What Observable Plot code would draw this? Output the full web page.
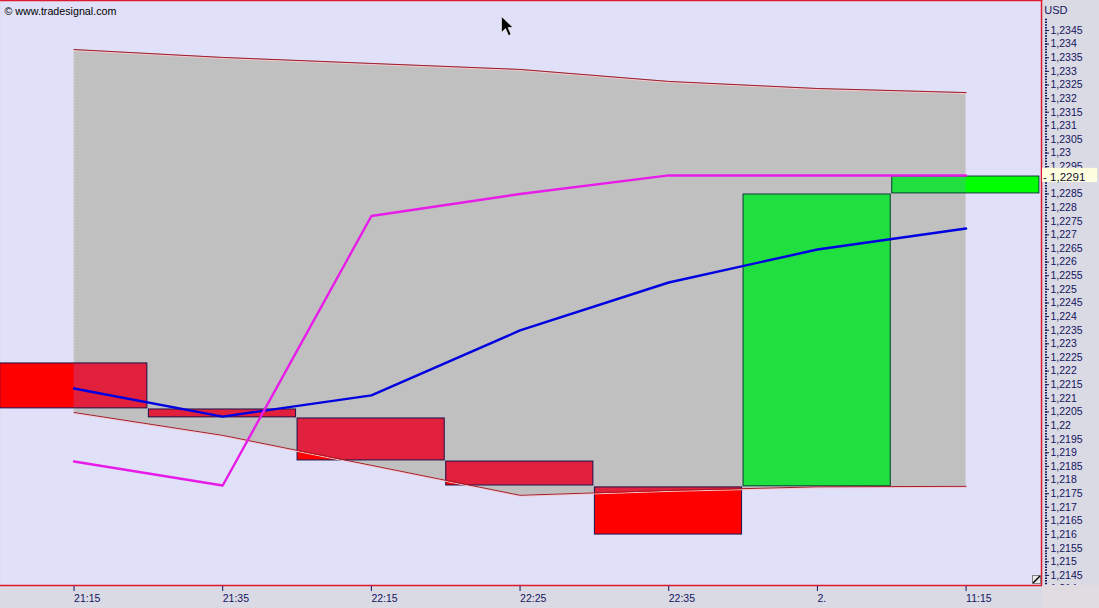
<!DOCTYPE html>
<html>
<head>
<meta charset="utf-8">
<script src="https://cdn.jsdelivr.net/npm/d3@7"></script>
<script src="https://cdn.jsdelivr.net/npm/@observablehq/plot@0.6"></script>
<style>
html,body{margin:0;padding:0;background:#dadae4;overflow:hidden;width:1099px;height:608px;position:relative}
#chart svg{display:block}
.ov{position:absolute}
</style>
</head>
<body>
<div id="chart"></div>
<div class="ov" style="left:1042px;top:585px;width:57px;height:23px;background:#e0dce2"></div>
<svg class="ov" style="left:1032px;top:575px" width="9" height="9"><rect x="0.5" y="0.5" width="8" height="8" fill="#e8e8e8" stroke="#808080"/><path d="M1 8L8 1" stroke="#000" stroke-width="1.4"/></svg>
<svg class="ov" style="left:500px;top:15px" width="14" height="23"><path d="M1.5 1.5V17.5L5.5 13.5L8.5 20.5L11 19.5L8 12.5H13Z" fill="#000" stroke="#fff" stroke-width="0.6"/></svg>
<script>
const xLabels = ["21:15", "21:35", "22:15", "22:25", "22:35", "2.", "11:15"];
const xIdx = [0, 1, 2, 3, 4, 5, 6];
const upper = [1.2338, 1.23351, 1.23329, 1.23307, 1.23263, 1.23237, 1.23222];
const lower = [1.22048, 1.21964, 1.21854, 1.21744, 1.21762, 1.21775, 1.21777];
const blue = [1.22136, 1.22033, 1.22111, 1.22349, 1.22525, 1.22646, 1.22723];
const magenta = [1.21868, 1.2178, 1.22769, 1.2285, 1.22918, 1.22918, 1.22918];
const candleHigh = [1.22228, 1.22059, 1.22026, 1.21868, 1.21773, 1.22848, 1.22914];
const candleLow = [1.22063, 1.2203, 1.21872, 1.2178, 1.216, 1.21777, 1.22852];
const candleUp = [false, false, false, false, false, true, true];
const yTicks = [1.214, 1.2145, 1.215, 1.2155, 1.216, 1.2165, 1.217, 1.2175, 1.218, 1.2185, 1.219, 1.2195, 1.22, 1.2205, 1.221, 1.2215, 1.222, 1.2225, 1.223, 1.2235, 1.224, 1.2245, 1.225, 1.2255, 1.226, 1.2265, 1.227, 1.2275, 1.228, 1.2285, 1.2295, 1.23, 1.2305, 1.231, 1.2315, 1.232, 1.2325, 1.233, 1.2335, 1.234, 1.2345];
const minorTicks = d3.range(12141, 12350).map(d => d / 10000);
const lastPrice = 1.2291;

const series = xIdx.map(i => ({i, upper: upper[i], lower: lower[i], blue: blue[i], magenta: magenta[i]}));
const candles = xIdx.map(i => ({x1: i - 0.5, x2: i + 0.5, hi: candleHigh[i], lo: candleLow[i], up: candleUp[i]}));

const NAVY = "#14145f", RED = "#e01a2c";

function clipToBand(index, scales, values, dimensions, context, next) {
  const g = next(index, scales, values, dimensions, context);
  const path = d3.area().x(d => scales.x(d.i)).y0(d => scales.y(d.lower)).y1(d => scales.y(d.upper))(series);
  const ns = "http://www.w3.org/2000/svg";
  const cp = document.createElementNS(ns, "clipPath");
  cp.setAttribute("id", "bandclip");
  const p = document.createElementNS(ns, "path");
  p.setAttribute("d", path);
  cp.appendChild(p);
  g.insertBefore(cp, g.firstChild);
  g.setAttribute("clip-path", "url(#bandclip)");
  return g;
}

const rectOpts = {x1: "x1", x2: "x2", y1: "lo", y2: "hi", insetLeft: 0.5, insetRight: 1};

const chart = Plot.plot({
  width: 1099, height: 608,
  marginLeft: 0, marginRight: 58, marginTop: 0, marginBottom: 23,
  style: {background: "transparent", fontFamily: "'Liberation Sans', Arial, sans-serif", fontSize: "11px"},
  x: {type: "linear", domain: [-0.4947, 6.5074], range: [0, 1041], label: null},
  y: {type: "linear", domain: [1.21413, 1.2356], range: [585, 0], label: null},
  marks: [
    Plot.frame({fill: "#e0e0f8", stroke: "none"}),
    Plot.areaY(series, {x: "i", y1: "lower", y2: "upper", fill: "#c0c0c0"}),
    Plot.ruleX([series[0], series[6]], {x: "i", y1: "lower", y2: "upper", stroke: "#e6dce4", strokeWidth: 1, strokeDasharray: "1 2"}),
    Plot.rect(candles, {...rectOpts, fill: d => d.up ? "#00ff00" : "#ff0000"}),
    Plot.rect(candles, {...rectOpts, fill: d => d.up ? "#20e040" : "#e0203c", render: clipToBand}),
    Plot.rect(candles, {...rectOpts, fill: "none", stroke: d => d.up ? "#0e3a3a" : "#1c1650", strokeWidth: 1}),
    Plot.line(series, {x: "i", y: "upper", stroke: "#f8c8d0", strokeWidth: 1, dy: 1}),
    Plot.line(series, {x: "i", y: "lower", stroke: "#f8c8d0", strokeWidth: 1, dy: 1}),
    Plot.line(series, {x: "i", y: "upper", stroke: "#a01c28", strokeWidth: 1}),
    Plot.line(series, {x: "i", y: "lower", stroke: "#a01c28", strokeWidth: 1}),
    Plot.line(series, {x: "i", y: "blue", stroke: "#0000e0", strokeWidth: 2.4}),
    Plot.line(series, {x: "i", y: "magenta", stroke: "#e81ce8", strokeWidth: 2.4}),
    Plot.frame({anchor: "top", stroke: RED, strokeWidth: 1.5}),
    Plot.frame({anchor: "right", stroke: RED, strokeWidth: 1.5}),
    Plot.frame({anchor: "bottom", stroke: RED, strokeWidth: 1.5}),
    Plot.axisY({anchor: "right", ticks: minorTicks, tickSize: 2, dx: 3, strokeWidth: 1.5, stroke: NAVY, text: null, label: null, tickFormat: null}),
    Plot.axisY({anchor: "right", ticks: yTicks, tickSize: 4, dx: 3, tickPadding: 2, stroke: NAVY, fill: NAVY, label: null,
      tickFormat: d => String(d).replace(".", ","), fontSize: 10.5}),
    Plot.axisX({anchor: "bottom", ticks: xIdx, tickSize: 5, tickPadding: 3, dy: 1, stroke: NAVY, fill: NAVY, label: null,
      textAnchor: "start", tickFormat: i => xLabels[i], fontSize: 10.5}),
    Plot.rect([{x1: 6.515, x2: 6.885, y1: 1.22892, y2: 1.22944}], {x1: "x1", x2: "x2", y1: "y1", y2: "y2", fill: "#ffffe0"}),
    Plot.text([lastPrice], {x: 6.518, y: d => d, text: d => "- " + String(d).replace(".", ","), textAnchor: "start", fill: "#101030", fontSize: 11.5}),
    Plot.text(["USD"], {frameAnchor: "top-right", dx: 26, dy: 6, text: d => d, textAnchor: "end", fill: NAVY, fontSize: 11}),
    Plot.text(["© www.tradesignal.com"], {frameAnchor: "top-left", dx: 4, dy: 7, text: d => d, textAnchor: "start", fill: "#000", fontSize: 10.7})
  ]
});
document.getElementById("chart").appendChild(chart);
</script>
</body>
</html>
